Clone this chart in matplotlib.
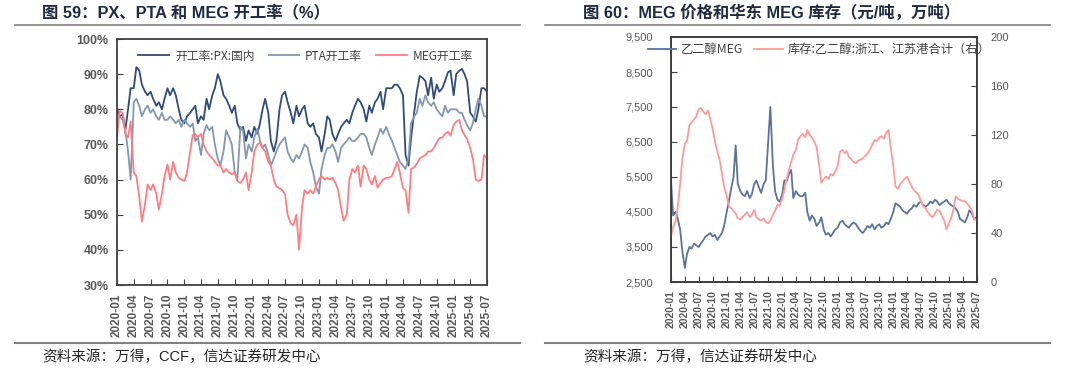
import matplotlib
matplotlib.use("agg")
import matplotlib.pyplot as plt
import matplotlib.dates as mdates
from matplotlib.lines import Line2D
from matplotlib.ticker import FuncFormatter
import pandas as pd

plt.rcParams['font.family'] = ['Liberation Sans', 'Noto Sans CJK SC']

# semi-monthly points, 2020-01 .. 2025-07
dates = pd.date_range('2020-01-01', '2025-07-01', freq='SMS')

# operating rates (%)
px_rate = [80, 78, 78.5, 74, 80, 86, 86, 92, 91, 87, 85, 84,
           85, 83, 81, 82, 80, 83, 86, 84, 86, 84, 80, 77,
           76, 78, 79, 80, 81, 76, 78, 77, 83, 80, 84, 86,
           90, 88, 84, 83, 81, 79, 81, 76, 74, 75, 71, 74,
           72, 75, 73, 76, 80, 83, 79, 71, 68, 71, 80, 84,
           85, 82, 79, 76, 81, 78, 80, 81, 76, 75, 76, 73,
           72, 68, 73, 78, 77, 73, 71, 73, 75, 76, 77, 76,
           79, 81, 83, 82, 80, 76.5, 81, 79, 82, 83, 85, 80,
           86, 86, 86, 87, 87, 86, 84, 67, 64, 72, 79, 85,
           89.5, 89, 88, 84, 89, 83, 87, 85, 86, 88, 90.5, 91,
           84, 90, 91, 91.5, 90, 88, 79, 78, 76.5, 80, 86, 86,
           85]
pta_rate = [79, 78, 77, 74, 68, 60, 82, 83, 81, 78, 80, 81,
            79, 80, 78, 77, 79, 77, 77, 78, 77, 76, 77, 75,
            77, 76, 75, 76, 71, 72, 67, 73, 75.5, 74, 75, 70,
            66, 64, 68, 74, 72, 70, 62, 60, 75, 74, 66, 70,
            68, 72, 74.5, 71, 69, 70, 67, 64, 66, 68, 70, 71,
            72, 68, 66, 65, 67, 66, 68, 70, 69, 65, 62, 58,
            56, 63, 67, 69, 69, 70, 68, 65, 69, 70, 71, 72,
            71, 71, 72, 73, 73, 72, 69, 67, 70, 72, 74.5, 73,
            75, 73, 71, 69, 67, 65, 64, 63, 66, 76, 78, 79,
            83, 81, 84, 82, 81, 82, 80, 79, 78, 81, 79, 80,
            80, 80, 79, 79, 77, 75.5, 74, 76, 80, 83, 81, 78,
            78]
meg_rate = [72, 79.5, 79, 73, 72, 76.5, 62, 61, 55, 48, 53, 58.6,
            57, 58.6, 56, 51.5, 56, 61, 64.3, 60, 65, 62, 60.5, 60,
            59.6, 62, 68, 72.7, 73, 72, 73, 70, 68, 67, 66, 65,
            64, 64, 62, 63, 62, 61.5, 62, 59.6, 59, 60, 62, 57,
            62, 68, 70, 70.5, 69, 68, 65, 64, 60, 58, 57.5, 57,
            55.8, 50, 47.5, 47, 50, 40, 52, 57, 56, 57, 56, 58,
            60, 61, 60, 60.5, 60, 60.5, 59, 57, 52, 48.3, 50, 60,
            63, 62, 64, 58, 64, 63, 60, 58.6, 61, 57.7, 59, 60,
            60.5, 60.5, 61, 63, 65, 62, 57.5, 57, 50.5, 63, 63.5, 64.5,
            66, 66.5, 67, 68, 68, 69, 70.5, 71.8, 72, 73, 73.6, 72.5,
            75.5, 76.5, 77, 74, 72.7, 71.5, 69, 66, 60, 59.6, 60, 67,
            66]

# MEG price (yuan/t) and East China port inventory (10k t)
meg_price = [5400, 4400, 4500, 4300, 4000, 3400, 2900, 3300, 3500, 3450, 3600, 3550,
             3500, 3600, 3700, 3800, 3850, 3900, 3800, 3850, 3700, 3800, 3900, 4100,
             4500, 4800, 5200, 5500, 6400, 5300, 5100, 5000, 4950, 5100, 4900, 5000,
             5300, 5400, 5200, 5050, 5300, 5400, 6500, 7500, 5800, 5100, 4850, 4800,
             5000, 5400, 5400, 5600, 5700, 4900, 5100, 5000, 4950, 4950, 5050, 4500,
             4250, 4400, 4300, 4100, 4200, 4350, 4000, 3850, 3900, 3800, 3900, 4000,
             4050, 4200, 4250, 4150, 4100, 4050, 4150, 4200, 4150, 4050, 3950, 3900,
             4000, 4100, 4050, 4150, 4000, 4100, 4150, 4050, 4100, 4200, 4150, 4300,
             4500, 4750, 4700, 4650, 4550, 4500, 4450, 4550, 4600, 4700, 4650, 4750,
             4800, 4700, 4650, 4700, 4800, 4750, 4850, 4800, 4700, 4750, 4800, 4850,
             4750, 4700, 4650, 4600, 4500, 4300, 4250, 4200, 4350, 4550, 4450, 4300,
             4350]
meg_stock = [37, 45, 50, 62, 80, 100, 113, 115, 128, 130, 133, 135,
             141, 142, 139, 137, 140, 133, 125, 115, 106, 100, 88, 78,
             70, 62, 60, 58, 56, 52, 51, 53, 55, 57, 53, 55,
             59, 53, 51, 50, 52, 49, 48, 50, 55, 58, 63, 62,
             68, 75, 85, 92, 98, 104, 108, 116, 119, 121, 118, 124,
             120, 118, 114, 110, 95, 81, 84, 86, 84, 88, 87, 90,
             95, 106, 108, 105, 107, 102, 100, 98, 97, 99, 100, 101,
             103, 105, 108, 112, 116, 115, 118, 119, 117, 122, 124, 110,
             95, 78, 76, 80, 82, 84, 86, 82, 78, 75, 73, 71,
             66, 62, 60, 57, 54, 53, 56, 59, 58, 54, 50, 43,
             48, 52, 60, 70, 68, 67, 66, 66, 64, 62, 58, 52,
             50]

tick_dates = pd.date_range('2020-01-01', '2025-07-01', freq='3MS')
tick_col = '#595959'
spine_col = '#404040'


def style_axes(ax, xsize=8.5, ysize=9, ypad=6, ybold=True):
    for s in ax.spines.values():
        s.set_color(spine_col)
        s.set_linewidth(1.3)
    ax.set_xlim(dates[0], dates[-1])
    ax.set_xticks(tick_dates)
    ax.xaxis.set_major_formatter(mdates.DateFormatter('%Y-%m'))
    ax.tick_params(axis='x', rotation=90, direction='in', length=4,
                   colors=spine_col, labelcolor=tick_col, labelsize=xsize, pad=6)
    ax.tick_params(axis='y', direction='in', length=4,
                   colors=spine_col, labelcolor=tick_col, labelsize=ysize, pad=ypad)
    for lab in ax.get_xticklabels():
        lab.set_fontweight('bold')
    if ybold:
        for lab in ax.get_yticklabels():
            lab.set_fontweight('bold')


fig = plt.figure(figsize=(10.8, 3.76), dpi=100)

# ---- left chart
ax1 = fig.add_axes([117/1080, 1-285/376, 370/1080, 246/376])
ax1.plot(dates, px_rate, color='#2f4b7c', lw=1.3, label='开工率:PX:国内')
ax1.plot(dates, pta_rate, color='#8497b0', lw=1.3, label='PTA开工率')
ax1.plot(dates, meg_rate, color='#ff7c80', lw=1.3, label='MEG开工率')
ax1.set_ylim(30, 100)
ax1.set_yticks(range(30, 101, 10))
ax1.yaxis.set_major_formatter(FuncFormatter(lambda v, p: f'{int(v)}%'))
style_axes(ax1)
ax1.legend(loc='upper center', bbox_to_anchor=(0.51, 1.0), ncol=3, frameon=False,
           prop={'family': ['Noto Sans CJK SC'], 'size': 8.5}, handlelength=2.6,
           columnspacing=1.2, handletextpad=0.5, labelcolor='#404040')

# ---- right chart
ax2 = fig.add_axes([671/1080, 1-282/376, 305.5/1080, 245/376])
ax2r = ax2.twinx()
l1, = ax2.plot(dates, meg_price, color='#5a7399', lw=1.3, label='乙二醇MEG')
l2, = ax2r.plot(dates, meg_stock, color='#ff9a9a', lw=1.3, label='库存:乙二醇:浙江、江苏港合计（右）')
ax2.set_ylim(2500, 9500)
ax2.set_yticks(range(2500, 9501, 1000))
ax2.yaxis.set_major_formatter(FuncFormatter(lambda v, p: f'{int(v):,}'))
ax2r.set_ylim(0, 200)
ax2r.set_yticks(range(0, 201, 40))
style_axes(ax2, xsize=7.5, ysize=8, ypad=13, ybold=False)
style_axes(ax2r, xsize=7.5, ysize=8, ypad=10, ybold=False)
ax2r.legend([l1, l2], [l1.get_label(), l2.get_label()], loc='upper center',
            bbox_to_anchor=(0.485, 1.02), ncol=2, frameon=False,
            prop={'family': ['Noto Sans CJK SC'], 'size': 8.8}, handlelength=2.3,
            columnspacing=0.9, handletextpad=0.4, labelcolor='#404040')

# ---- titles, rules and sources
title_font = ['Liberation Sans', 'Noto Sans CJK SC']
fig.text(42/1080, 1-12/376, '图 59：PX、PTA 和 MEG 开工率（%）', fontsize=11.8,
         fontweight='bold', family=title_font, color='#1f2a44', va='center')
fig.text(583/1080, 1-12/376, '图 60：MEG 价格和华东 MEG 库存（元/吨，万吨）', fontsize=11.8,
         fontweight='bold', family=title_font, color='#1f2a44', va='center')
for x0, x1 in [(15, 520), (545, 1050)]:
    fig.add_artist(Line2D([x0/1080, x1/1080], [1-25/376]*2, color='#808080', lw=1.2))
    fig.add_artist(Line2D([x0/1080, x1/1080], [1-343/376]*2, color='#808080', lw=1.5))
fig.text(42/1080, 1-357/376, '资料来源：万得，CCF，信达证券研发中心', fontsize=10.5,
         family=title_font, color='#262626', va='center')
fig.text(583/1080, 1-357/376, '资料来源：万得，信达证券研发中心', fontsize=10.5,
         family=title_font, color='#262626', va='center')

fig.savefig('out.png', dpi=100)
